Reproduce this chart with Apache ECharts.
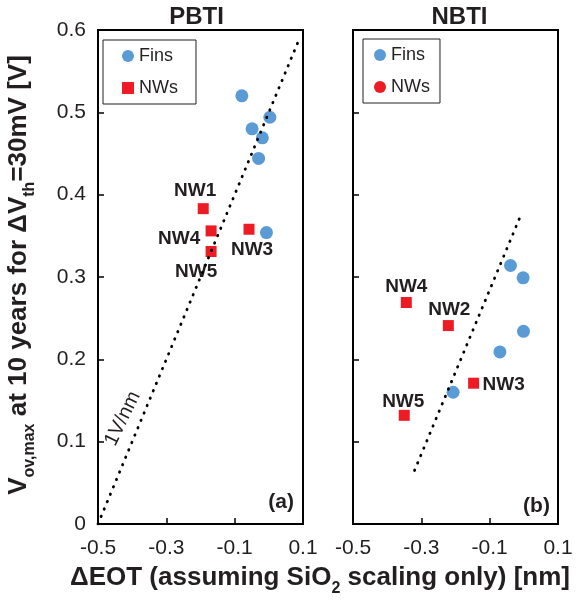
<!DOCTYPE html>
<html>
<head>
<meta charset="utf-8">
<script src="https://cdn.jsdelivr.net/npm/echarts@6/dist/echarts.min.js"></script>
<style>
html,body{margin:0;padding:0;background:#fff;}
#chart{width:577px;height:600px;}
</style>
</head>
<body>
<div id="chart"></div>
<script>
// ---- data ----
var xTicks = [-0.5, -0.3, -0.1, 0.1];
var yTicks = [0, 0.1, 0.2, 0.3, 0.4, 0.5, 0.6];

var pbtiFins = [[-0.079,0.520],[0.003,0.494],[-0.049,0.480],[-0.019,0.469],[-0.030,0.444],[-0.007,0.354]];
var pbtiNWNames = ['NW1','NW4','NW3','NW5'];
var pbtiNWs = [[-0.192,0.383],[-0.169,0.356],[-0.058,0.358],[-0.169,0.331]];
var pbtiLine = [[-0.5,0.0],[0.09,0.59]];

var nbtiFins = [[-0.039,0.314],[-0.002,0.299],[-0.001,0.234],[-0.070,0.209],[-0.207,0.160]];
var nbtiNWNames = ['NW4','NW2','NW3','NW5'];
var nbtiNWs = [[-0.344,0.269],[-0.221,0.241],[-0.147,0.171],[-0.350,0.132]];
var nbtiLine = [[-0.320,0.065],[-0.012,0.372]];

// label offsets (styling only)
var pbtiLabelOffsets = [[-8,-18],[-32,8],[3,21],[-15,20]];
var nbtiLabelOffsets = [[0,-16],[1,-16],[30,2],[-1,-14]];

var FONT = 'Liberation Sans, Arial, Helvetica, sans-serif';
var TXT = '#231f20';
var BLUE = '#5b9bd5';
var RED = '#ed1c24';

var chart = echarts.init(document.getElementById('chart'));

function xAxisCfg(gi){
  return {
    type:'value', gridIndex:gi, min:xTicks[0], max:xTicks[xTicks.length-1], interval:0.2,
    axisLine:{show:true, onZero:false, lineStyle:{color:'#000', width:2}},
    axisTick:{show:true, inside:true, length:6, lineStyle:{color:'#000', width:1.5}},
    splitLine:{show:false},
    axisLabel:{show:true, margin:14, fontSize:21, fontFamily:FONT, color:TXT,
      formatter:function(v){ return (Math.round(v*10)/10).toFixed(1); }}
  };
}
function yAxisCfg(gi, showLabel){
  return {
    type:'value', gridIndex:gi, min:yTicks[0], max:yTicks[yTicks.length-1], interval:0.1,
    axisLine:{show:true, onZero:false, lineStyle:{color:'#000', width:2}},
    axisTick:{show:true, inside:true, length:6, lineStyle:{color:'#000', width:1.5}},
    splitLine:{show:false},
    axisLabel:{show:showLabel, margin:12, fontSize:21, fontFamily:FONT, color:TXT,
      formatter:function(v){ var r=Math.round(v*10)/10; return r===0?'0':r.toFixed(1); }}
  };
}
function nwData(names, vals, offs){
  return vals.map(function(v,i){
    return {name:names[i], value:v, label:{offset:offs[i]}};
  });
}
var nwLabel = {show:true, position:'inside', formatter:'{b}', fontSize:19, fontWeight:'bold',
  fontFamily:FONT, color:TXT};

var dotted = {color:'#000', width:2.8, type:[0.5,7.5], cap:'round'};

var legendBase = {
  orient:'vertical', itemWidth:12, itemHeight:12, itemGap:14,
  borderColor:'#231f20', borderWidth:1, backgroundColor:'#fff',
  textStyle:{fontSize:18, lineHeight:18, fontFamily:FONT, color:TXT},
  selectedMode:false
};

var option = {
  animation:false,
  backgroundColor:'#fff',
  grid:[
    {left:98, top:30, width:205, height:494, show:true, borderColor:'#000', borderWidth:2, backgroundColor:'transparent'},
    {left:353, top:30, width:205, height:494, show:true, borderColor:'#000', borderWidth:2, backgroundColor:'transparent'}
  ],
  xAxis:[xAxisCfg(0), xAxisCfg(1)],
  yAxis:[yAxisCfg(0,true), yAxisCfg(1,false)],
  legend:[
    Object.assign({}, legendBase, {left:103, top:40, padding:[7,18,7,19],
      data:[{name:'Fins', icon:'circle'},{name:'NWs', icon:'rect'}]}),
    Object.assign({}, legendBase, {left:363, top:39, padding:[7,10,7,11],
      data:[{name:'Fins', icon:'circle'},{name:'NWs', icon:'circle'}]})
  ],
  series:[
    {name:'Fins', type:'scatter', xAxisIndex:0, yAxisIndex:0, symbol:'circle', symbolSize:13,
      itemStyle:{color:BLUE, opacity:1}, data:pbtiFins, z:2},
    {name:'NWs', type:'scatter', xAxisIndex:0, yAxisIndex:0, symbol:'rect', symbolSize:11,
      itemStyle:{color:RED, opacity:1}, label:nwLabel, data:nwData(pbtiNWNames,pbtiNWs,pbtiLabelOffsets), z:2},
    {name:'fit1', type:'line', xAxisIndex:0, yAxisIndex:0, symbol:'none', lineStyle:dotted,
      data:pbtiLine, z:5, silent:true},
    {name:'Fins', type:'scatter', xAxisIndex:1, yAxisIndex:1, symbol:'circle', symbolSize:13,
      itemStyle:{color:BLUE, opacity:1}, data:nbtiFins, z:2},
    {name:'NWs', type:'scatter', xAxisIndex:1, yAxisIndex:1, symbol:'rect', symbolSize:11,
      itemStyle:{color:RED, opacity:1}, label:nwLabel, data:nwData(nbtiNWNames,nbtiNWs,nbtiLabelOffsets), z:2},
    {name:'fit2', type:'line', xAxisIndex:1, yAxisIndex:1, symbol:'none', lineStyle:dotted,
      data:nbtiLine, z:5, silent:true}
  ]
};
chart.setOption(option);

// annotations positioned through the chart's own coordinate system
var pA = chart.convertToPixel({gridIndex:0}, [0.036, 0.027]);
var pB = chart.convertToPixel({gridIndex:1}, [0.037, 0.022]);
var pSlope = chart.convertToPixel({gridIndex:0}, [-0.428, 0.128]);
var g0a = chart.convertToPixel({gridIndex:0}, [-0.5, 0.6]);
var g0b = chart.convertToPixel({gridIndex:0}, [0.1, 0]);
var g1a = chart.convertToPixel({gridIndex:1}, [-0.5, 0.6]);
var g1b = chart.convertToPixel({gridIndex:1}, [0.1, 0]);

chart.setOption({
  graphic:[
    {type:'text', x:(g0a[0]+g0b[0])/2 - 4, y:17, style:{text:'PBTI', fontSize:24, fontWeight:'bold', fontFamily:FONT, fill:TXT, align:'center', verticalAlign:'middle'}},
    {type:'text', x:(g1a[0]+g1b[0])/2 + 4, y:17, style:{text:'NBTI', fontSize:24, fontWeight:'bold', fontFamily:FONT, fill:TXT, align:'center', verticalAlign:'middle'}},
    {type:'text', x:pA[0], y:pA[1], style:{text:'(a)', fontSize:21, fontWeight:'bold', fontFamily:FONT, fill:TXT, align:'center', verticalAlign:'middle'}},
    {type:'text', x:pB[0], y:pB[1], style:{text:'(b)', fontSize:21, fontWeight:'bold', fontFamily:FONT, fill:TXT, align:'center', verticalAlign:'middle'}},
    {type:'text', x:pSlope[0], y:pSlope[1], rotation:64*Math.PI/180, style:{text:'1V/nm', fontSize:20, fontFamily:FONT, fill:TXT, align:'center', verticalAlign:'middle'}},
    {type:'text', x:320, y:581, style:{
      text:'{b|ΔEOT (assuming SiO}{s|2}{b| scaling only) [nm]}',
      align:'center', verticalAlign:'middle', fill:TXT,
      rich:{
        b:{fontSize:26, fontWeight:'bold', fontFamily:FONT, fill:TXT, lineHeight:32, verticalAlign:'top'},
        s:{fontSize:16, fontWeight:'bold', fontFamily:FONT, fill:TXT, lineHeight:16, verticalAlign:'bottom'}
      }}},
    {type:'text', x:22, y:275, rotation:Math.PI/2, style:{
      text:'{b|V}{s|ov,max}{b| at 10 years for ΔV}{s|th}{b|=30mV [V]}',
      align:'center', verticalAlign:'middle', fill:TXT,
      rich:{
        b:{fontSize:26, fontWeight:'bold', fontFamily:FONT, fill:TXT, lineHeight:32, verticalAlign:'top'},
        s:{fontSize:16, fontWeight:'bold', fontFamily:FONT, fill:TXT, lineHeight:16, verticalAlign:'bottom'}
      }}}
  ]
});
</script>
</body>
</html>
